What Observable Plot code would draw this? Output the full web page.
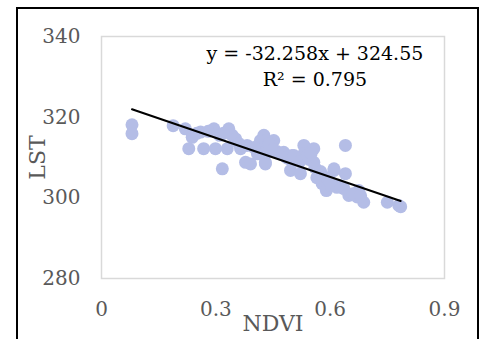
<!DOCTYPE html>
<html>
<head>
<meta charset="utf-8">
<script src="https://cdn.jsdelivr.net/npm/d3@7"></script>
<script src="https://cdn.jsdelivr.net/npm/@observablehq/plot@0.6"></script>
<style>
  html, body { margin: 0; padding: 0; background: #fff; }
  #wrap { position: relative; width: 482px; height: 339px; overflow: hidden; background: #fff; }
  #border { position: absolute; left: 16px; top: 7px; width: 459px; height: 400px; border: 2px solid #000; pointer-events: none; }
  #chart { position: absolute; left: 0; top: 0; }
</style>
</head>
<body>
<div id="wrap"><div id="chart"></div><div id="border"></div></div>
<script>
// NDVI vs LST samples
const ndvi = [0.080, 0.080, 0.188, 0.220, 0.238, 0.229, 0.268, 0.260, 0.299, 0.295,
  0.317, 0.334, 0.343, 0.330, 0.352, 0.365, 0.382, 0.378, 0.391, 0.417,
  0.426, 0.422, 0.430, 0.409, 0.430, 0.452, 0.435, 0.430, 0.478, 0.491,
  0.496, 0.522, 0.531, 0.531, 0.557, 0.557, 0.513, 0.570, 0.583, 0.610,
  0.640, 0.640, 0.636, 0.610, 0.618, 0.649, 0.671, 0.688, 0.675, 0.750,
  0.780, 0.579, 0.590, 0.601, 0.623, 0.250, 0.460, 0.545, 0.565, 0.500,
  0.280, 0.310, 0.320, 0.360, 0.400, 0.440, 0.450, 0.470, 0.485, 0.505,
  0.520, 0.540, 0.550, 0.560, 0.575, 0.592, 0.600, 0.660, 0.680, 0.785];
const lst = [318.1, 315.9, 317.9, 317.1, 315.0, 312.2, 312.2, 316.3, 312.2, 317.1,
  307.2, 317.1, 315.5, 312.2, 314.6, 312.2, 313.0, 308.8, 308.4, 314.2,
  315.5, 312.2, 308.4, 310.9, 314.2, 314.2, 311.3, 308.8, 311.3, 309.7,
  306.8, 306.0, 313.0, 310.9, 312.2, 308.8, 309.7, 305.5, 303.5, 307.2,
  313.0, 306.0, 302.3, 306.8, 302.6, 300.6, 300.2, 298.9, 301.8, 298.9,
  298.1, 303.5, 301.8, 303.1, 303.1, 316.0, 311.5, 309.5, 305.0, 310.5,
  316.5, 315.5, 316.0, 313.5, 312.5, 313.5, 312.0, 311.0, 310.0, 310.5,
  309.0, 310.5, 311.0, 307.5, 306.5, 305.0, 304.0, 301.0, 300.5, 297.8];
const xTicks = [0, 0.3, 0.6, 0.9];
const yTicks = [280, 300, 320, 340];
const slope = -32.258;
const intercept = 324.55;
const r2 = 0.795;
const equationText = ["y = -32.258x + 324.55", "R² = 0.795"];
const equationPos = {x: 0.56, y: 327.7};

const points = ndvi.map((x, i) => ({x, y: lst[i]}));
const [xmin, xmax] = d3.extent(ndvi);
const trend = [xmin, xmax].map(x => ({x, y: intercept + slope * x}));

const serif = "'DejaVu Serif', 'Liberation Serif', serif";

const chart = Plot.plot({
  width: 482,
  height: 339,
  marginLeft: 101,
  marginRight: 38,
  marginTop: 36,
  marginBottom: 61,
  style: {fontFamily: serif, background: "transparent", overflow: "visible"},
  x: {domain: [0, 0.9]},
  y: {domain: [280, 340]},
  marks: [
    Plot.frame({stroke: "#d9d9d9", strokeWidth: 1.5}),
    Plot.axisX({ticks: xTicks, tickFormat: d => `${d}`, tickSize: 0, tickPadding: 23, fontSize: 20, fill: "#595959", label: null}),
    Plot.axisY({ticks: yTicks, tickFormat: d => `${d}`, tickSize: 0, tickPadding: 21, fontSize: 20, fill: "#595959", label: null}),
    Plot.axisX({ticks: [], label: "NDVI", labelAnchor: "center", labelArrow: "none", labelOffset: 52, fontSize: 22, fill: "#595959"}),
    Plot.axisY({ticks: [], label: "LST", labelAnchor: "center", labelArrow: "none", labelOffset: 72, fontSize: 22, fill: "#595959"}),
    Plot.dot(points, {x: "x", y: "y", r: 6.5, fill: "#b4bde6", stroke: "none"}),
    Plot.line(trend, {x: "x", y: "y", stroke: "#000", strokeWidth: 2}),
    Plot.text([equationText.join("\n")], {x: () => equationPos.x, y: () => equationPos.y, text: d => d,
      textAnchor: "middle", lineAnchor: "bottom", lineHeight: 1.4, fontSize: 19, fill: "#000"})
  ]
});
document.getElementById("chart").appendChild(chart);
</script>
</body>
</html>
